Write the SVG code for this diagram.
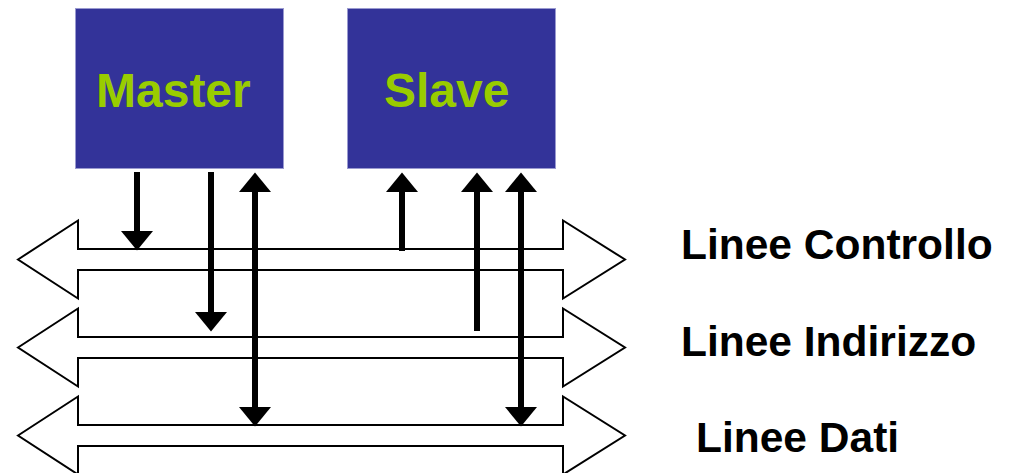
<svg xmlns="http://www.w3.org/2000/svg" width="1010" height="473" viewBox="0 0 1010 473">
<style>
.box{fill:#333399;stroke:#9a9ad0;stroke-width:1}
.boxtxt{font-family:"Liberation Sans",Arial,sans-serif;font-weight:bold;font-size:48px;fill:#99cc00}
.bus{fill:#ffffff;stroke:#000000;stroke-width:2;stroke-linejoin:miter}
.lbl{font-family:"Liberation Sans",Arial,sans-serif;font-weight:bold;font-size:42.5px;fill:#000000}
.wire{stroke:#000000;stroke-width:6;fill:none}
</style>
<defs>
<marker id="ah" markerUnits="userSpaceOnUse" markerWidth="20" markerHeight="34" viewBox="0 -17 20 34" refX="0" refY="0" orient="auto-start-reverse">
<path d="M0,-16 L19.5,0 L0,16 z" fill="#000000"/>
</marker>
</defs>
<rect width="1010" height="473" fill="#ffffff"/>
<g id="bus-controllo">
<polygon class="bus" points="18,259.5 78,220.5 78,249 563,249 563,220.5 625,259.5 563,298.5 563,270 78,270 78,298.5"/>
<text class="lbl" x="681" y="259">Linee Controllo</text>
</g>
<g id="bus-indirizzo">
<polygon class="bus" points="18,347.5 78,308.5 78,337 563,337 563,308.5 625,347.5 563,386.5 563,358 78,358 78,386.5"/>
<text class="lbl" x="681" y="356">Linee Indirizzo</text>
</g>
<g id="bus-dati">
<polygon class="bus" points="18,435.5 78,396.5 78,425 563,425 563,396.5 625,435.5 563,474.5 563,446 78,446 78,474.5"/>
<text class="lbl" x="696" y="452">Linee Dati</text>
</g>
<g id="master">
<rect class="box" x="75.5" y="8.5" width="208" height="160"/>
<text class="boxtxt" x="96" y="107">Master</text>
</g>
<g id="slave">
<rect class="box" x="347.5" y="8.5" width="208" height="160"/>
<text class="boxtxt" x="384" y="107">Slave</text>
</g>
<g id="connectors">
<line class="wire" x1="137" y1="172" x2="137" y2="231" marker-end="url(#ah)"/>
<line class="wire" x1="211" y1="172" x2="211" y2="312" marker-end="url(#ah)"/>
<line class="wire" x1="255" y1="192" x2="255" y2="407" marker-start="url(#ah)" marker-end="url(#ah)"/>
<line class="wire" x1="402" y1="251" x2="402" y2="192" marker-end="url(#ah)"/>
<line class="wire" x1="477" y1="331" x2="477" y2="192" marker-end="url(#ah)"/>
<line class="wire" x1="521" y1="192" x2="521" y2="407" marker-start="url(#ah)" marker-end="url(#ah)"/>
</g>
</svg>
